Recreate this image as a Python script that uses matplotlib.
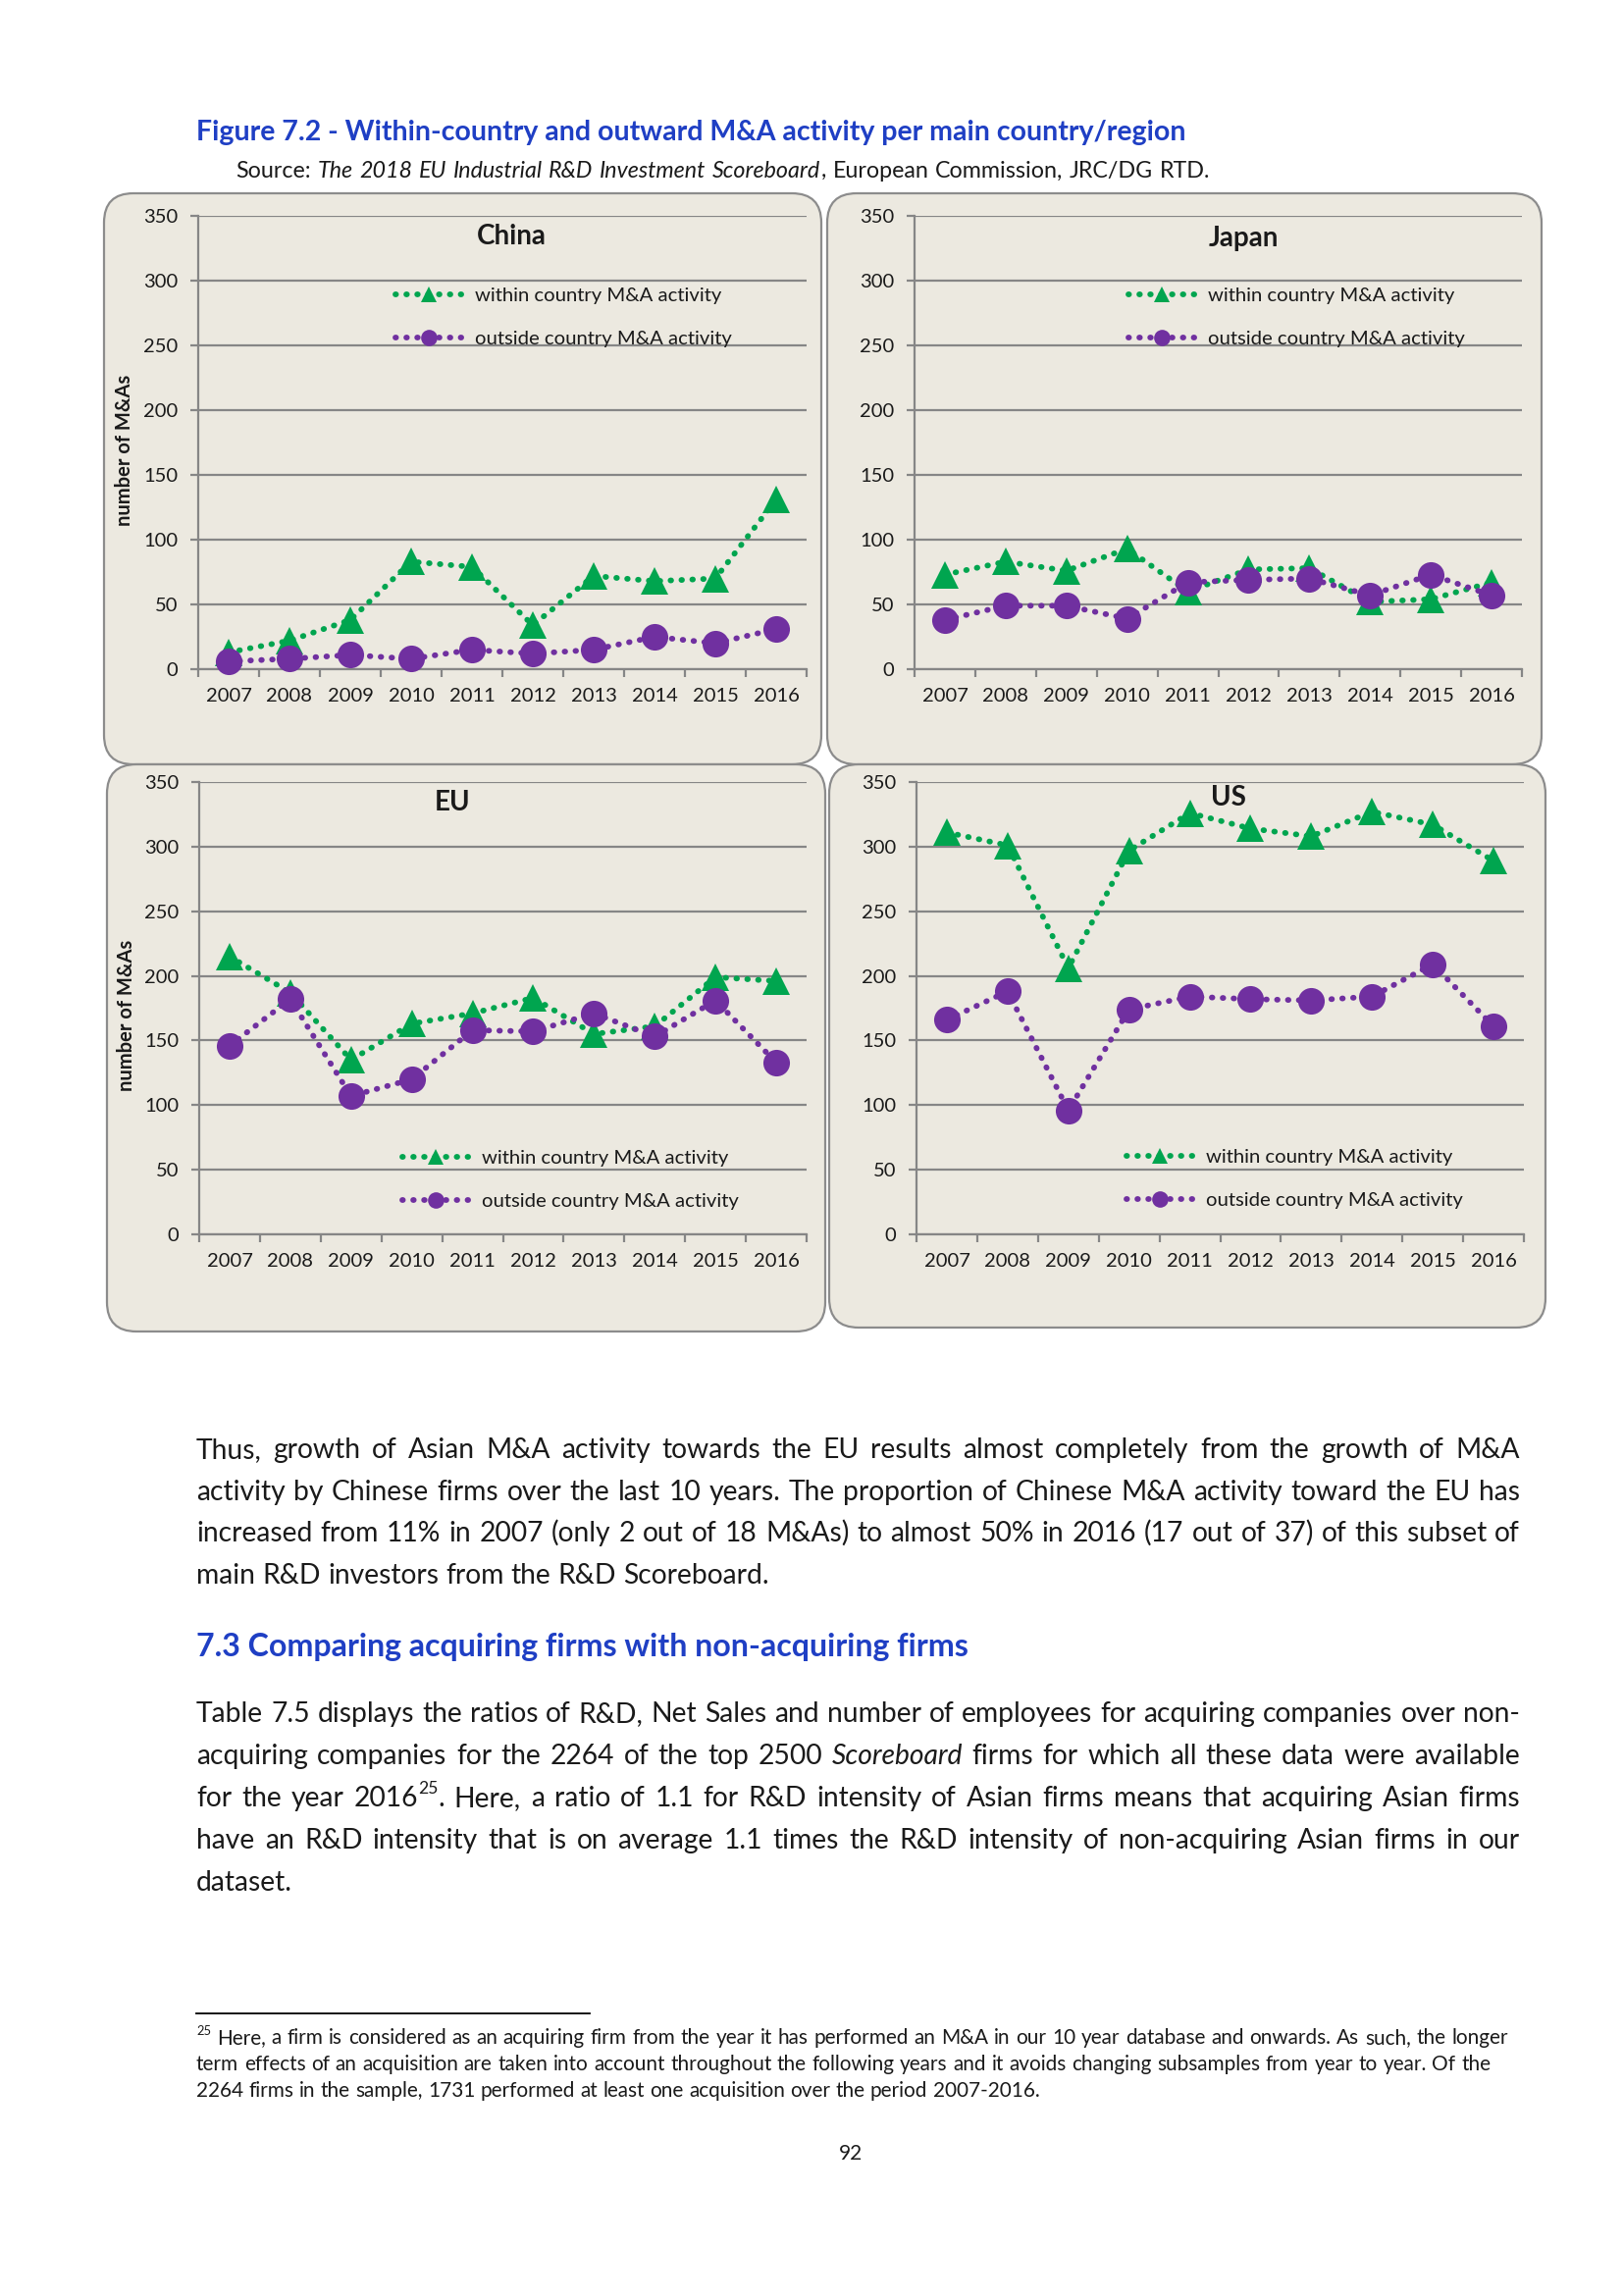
import re
import numpy as np
import matplotlib
matplotlib.use('Agg')
import matplotlib.pyplot as plt
from matplotlib.patches import FancyBboxPatch
from matplotlib.lines import Line2D

# ---------------- data ----------------
years = ['2007', '2008', '2009', '2010', '2011', '2012', '2013', '2014', '2015', '2016']
y_ticks = [0, 50, 100, 150, 200, 250, 300, 350]

china_within = [13, 22, 38, 83, 79, 34, 72, 68, 70, 131]
china_outside = [6, 8, 11, 8, 15, 12, 15, 25, 20, 31]
japan_within = [73, 83, 76, 93, 60, 77, 78, 52, 54, 67]
japan_outside = [38, 49, 49, 39, 67, 69, 70, 57, 73, 57]
eu_within = [215, 187, 135, 163, 171, 183, 155, 161, 199, 196]
eu_outside = [146, 182, 107, 120, 158, 157, 171, 153, 181, 133]
us_within = [311, 301, 206, 297, 326, 314, 308, 327, 317, 289]
us_outside = [166, 188, 96, 174, 184, 182, 181, 184, 209, 161]

series_labels = ['within country M&A activity', 'outside country M&A activity']
y_label = 'number of M&As'

# ---------------- style ----------------
plt.rcParams['font.family'] = ['Lato', 'DejaVu Sans']
GREEN = '#00A54F'
PURPLE = '#7030A0'
GRID = '#868686'
PANEL = '#ECE9E0'
BLUE = '#1F3FC4'
TXT = '#1A1A1A'
DOTS = (0, (0.1, 1.8))

W, H = 1654, 2340
fig = plt.figure(figsize=(W / 100, H / 100), dpi=100)
fig.patch.set_facecolor('white')
bg = fig.add_axes([0, 0, 1, 1], zorder=0)
bg.set_xlim(0, W)
bg.set_ylim(H, 0)
bg.axis('off')
R = fig.canvas.get_renderer()

# ---------------- panels ----------------
panel_boxes = [(106, 197, 731, 582), (843, 197, 728, 582),
               (109, 779, 732, 578), (845, 779, 730, 574)]
for (x0, y0, w, h) in panel_boxes:
    bg.add_patch(FancyBboxPatch((x0, y0), w, h,
                                boxstyle='round,pad=0,rounding_size=30',
                                facecolor=PANEL, edgecolor='#8C8C8C', lw=1.6))


def px_rect(left, top, right, bottom):
    return [left / W, 1 - bottom / H, (right - left) / W, (bottom - top) / H]


def panel(rect, within, outside, title, title_xy, leg_xy, ylab_xy=None):
    ax = fig.add_axes(rect, zorder=2)
    ax.set_facecolor('none')
    x = np.arange(len(years))
    ax.plot(x, within, color=GREEN, lw=4.2, ls=DOTS, dash_capstyle='round',
            marker='^', ms=20, mew=0, zorder=3, clip_on=False)
    ax.plot(x, outside, color=PURPLE, lw=4.2, ls=DOTS, dash_capstyle='round',
            marker='o', ms=19.5, mew=0, zorder=4, clip_on=False)
    ax.set_xlim(-0.5, len(years) - 0.5)
    ax.set_ylim(y_ticks[0], y_ticks[-1])
    ax.set_yticks(y_ticks)
    ax.yaxis.grid(True, color=GRID, lw=1.6)
    ax.set_axisbelow(True)
    for s in ['top', 'right']:
        ax.spines[s].set_visible(False)
    for s in ['left', 'bottom']:
        ax.spines[s].set_color(GRID)
        ax.spines[s].set_linewidth(1.6)
    ax.set_xticks(x)
    ax.set_xticklabels(years)
    ax.set_xticks(np.arange(-0.5, len(years), 1), minor=True)
    ax.tick_params(axis='x', which='major', length=0, pad=14, labelsize=14.5, labelcolor=TXT)
    ax.tick_params(axis='x', which='minor', length=6, width=1.6, color=GRID, direction='out')
    ax.tick_params(axis='y', length=6, width=1.6, color=GRID, pad=9, labelsize=14.5, labelcolor=TXT)
    handles = [Line2D([], [], color=GREEN, lw=4.2, ls=DOTS, dash_capstyle='round',
                      marker='^', ms=11, mew=0),
               Line2D([], [], color=PURPLE, lw=4.2, ls=DOTS, dash_capstyle='round',
                      marker='o', ms=12, mew=0)]
    ax.legend(handles, series_labels, loc='upper left', bbox_to_anchor=leg_xy,
              bbox_transform=bg.transData, frameon=False, fontsize=14.6,
              handlelength=3.4, handletextpad=0.6, labelspacing=1.3,
              borderpad=0, borderaxespad=0, numpoints=1, labelcolor=TXT)
    bg.text(title_xy[0], title_xy[1], title, fontsize=20, fontweight='bold',
            ha='center', va='center', color=TXT)
    if ylab_xy is not None:
        bg.text(ylab_xy[0], ylab_xy[1], y_label, fontsize=14.5, fontweight='bold',
                rotation=90, ha='center', va='center', color=TXT)
    return ax


panel(px_rect(202, 220, 822, 682), china_within, china_outside, 'China',
      (521, 241), (403, 293), (127, 459))
panel(px_rect(932, 220, 1551, 682), japan_within, japan_outside, 'Japan',
      (1267, 243), (1150, 293))
panel(px_rect(203, 797, 822, 1258), eu_within, eu_outside, 'EU',
      (461, 818), (410, 1172), (129, 1035))
panel(px_rect(934, 797, 1553, 1258), us_within, us_outside, 'US',
      (1252, 813), (1148, 1171))


# ---------------- text helpers ----------------
def measure(s, **kw):
    t = bg.text(0, 0, s, **kw)
    w = t.get_window_extent(R).width
    t.remove()
    return w


def parse(line):
    toks = []
    for word in line.split(' '):
        parts = []
        for p in re.split(r'(\*[^*]+\*|\^[^^]+\^)', word):
            if not p:
                continue
            if p.startswith('*'):
                parts.append((p[1:-1], 'it'))
            elif p.startswith('^'):
                parts.append((p[1:-1], 'sup'))
            else:
                parts.append((p, 'n'))
        toks.append(parts)
    return toks


def part_kw(style, fs, base):
    kw = dict(base)
    if style == 'it':
        kw['style'] = 'italic'
    kw['fontsize'] = fs * 0.62 if style == 'sup' else fs
    return kw


def layout(line, fs, base):
    toks = parse(line)
    tw = [[measure(s, **part_kw(st, fs, base)) for s, st in tok] for tok in toks]
    total = sum(sum(ws) for ws in tw)
    space = measure('a a', fontsize=fs, **base) - measure('aa', fontsize=fs, **base)
    return toks, tw, total, space


def natural_width(line, fs, **base):
    toks, tw, total, space = layout(line, fs, base)
    return total + space * (len(toks) - 1)


def draw_line(line, x0, y, width, fs, justify=True, **base):
    toks, tw, total, space = layout(line, fs, base)
    gap = (width - total) / (len(toks) - 1) if (justify and len(toks) > 1) else space
    x = x0
    fs_px = fs * 100 / 72
    for tok, ws in zip(toks, tw):
        for (s, st), w in zip(tok, ws):
            yy = y - 0.45 * fs_px if st == 'sup' else y
            bg.text(x, yy, s, va='baseline', ha='left', **part_kw(st, fs, base))
            x += w
        x += gap


def fit_para(lines, widths, fs0, **base):
    ratios = [w / natural_width(ln, fs0, **base) for ln, w in zip(lines, widths) if w]
    return fs0 * min(ratios) * 0.995


def fit_fs(s, width, fs0, **kw):
    return fs0 * width / measure(s, fontsize=fs0, **kw)


# ---------------- title ----------------
title = 'Figure 7.2 - Within-country and outward M&A activity per main country/region'
fs_t = fit_fs(title, 1010, 18, fontweight='bold')
bg.text(200, 143, title, fontsize=fs_t, fontweight='bold', color=BLUE, va='baseline')
source = 'Source: *The* *2018* *EU* *Industrial* *R&D* *Investment* *Scoreboard*, European Commission, JRC/DG RTD.'
fs_s = fit_para([source], [993], 14, color=TXT)
draw_line(source, 240, 181, 993, fs_s, justify=True, color=TXT)

# ---------------- body text ----------------
para1 = ['Thus, growth of Asian M&A activity towards the EU results almost completely from the growth of M&A',
         'activity by Chinese firms over the last 10 years. The proportion of Chinese M&A activity toward the EU has',
         'increased from 11% in 2007 (only 2 out of 18 M&As) to almost 50% in 2016 (17 out of 37) of this subset of',
         'main R&D investors from the R&D Scoreboard.']
para1_y = [1486, 1529, 1571, 1614]

para2 = ['Table 7.5 displays the ratios of R&D, Net Sales and number of employees for acquiring companies over non-',
         'acquiring companies for the 2264 of the top 2500 *Scoreboard* firms for which all these data were available',
         'for the year 2016^25^. Here, a ratio of 1.1 for R&D intensity of Asian firms means that acquiring Asian firms',
         'have an R&D intensity that is on average 1.1 times the R&D intensity of non-acquiring Asian firms in our',
         'dataset.']
para2_y = [1755, 1798, 1841, 1884, 1927]

fs_body = min(fit_para(para1[:-1], [1349] * 3, 16, color=TXT),
              fit_para(para2[:-1], [1349] * 4, 16, color=TXT))
for i, (ln, yy) in enumerate(zip(para1, para1_y)):
    draw_line(ln, 200, yy, 1349, fs_body, justify=(i < len(para1) - 1), color=TXT)

heading = '7.3 Comparing acquiring firms with non-acquiring firms'
fs_h = fit_fs(heading, 792, 18, fontweight='bold')
bg.text(200, 1688, heading, fontsize=fs_h, fontweight='bold', color=BLUE, va='baseline')

for i, (ln, yy) in enumerate(zip(para2, para2_y)):
    draw_line(ln, 200, yy, 1349, fs_body, justify=(i < len(para2) - 1), color=TXT)

# footnote
bg.plot([200, 601], [2052, 2052], color='black', lw=1.3)
foot = ['^25^ Here, a firm is considered as an acquiring firm from the year it has performed an M&A in our 10 year database and onwards. As such, the longer',
        'term effects of an acquisition are taken into account throughout the following years and it avoids changing subsamples from year to year. Of the',
        '2264 firms in the sample, 1731 performed at least one acquisition over the period 2007-2016.']
foot_y = [2083, 2110, 2137]
foot_w = [1337, 1319, None]
fs_foot = fit_para(foot[:2], foot_w[:2], 12, color=TXT)
for ln, yy, ww in zip(foot, foot_y, foot_w):
    draw_line(ln, 200, yy, ww or 0, fs_foot, justify=ww is not None, color=TXT)

bg.text(867, 2195, '92', fontsize=15, ha='center', va='center', color=TXT)

fig.savefig('out.png', dpi=100, facecolor='white')
